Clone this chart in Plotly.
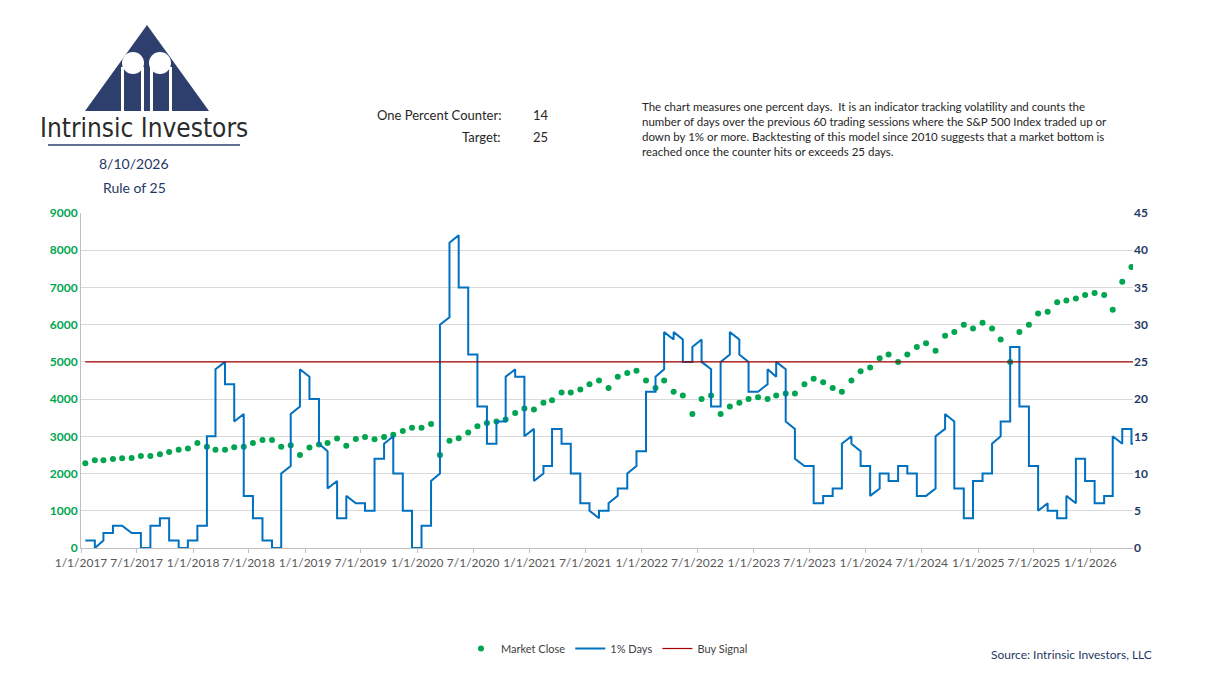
import plotly.graph_objects as go
import pandas as pd

# monthly samples (mid-month), Jan 2017 .. May 2026
months = pd.date_range("2017-01-01", "2026-05-01", freq="MS") + pd.Timedelta(days=14)

market_close = [
    2280, 2360, 2360, 2390, 2410, 2420, 2470, 2470, 2520, 2580, 2640, 2670,
    2820, 2720, 2640, 2640, 2710, 2720, 2820, 2900, 2900, 2720, 2760, 2500,
    2700, 2780, 2820, 2940, 2750, 2930, 2980, 2920, 2980, 3040, 3140, 3230,
    3230, 3330, 2500, 2880, 2950, 3100, 3270, 3360, 3400, 3450, 3630, 3750,
    3720, 3900, 3970, 4180, 4180, 4260, 4400, 4500, 4300, 4600, 4700, 4760,
    4500, 4300, 4500, 4200, 4100, 3600, 4000, 4100, 3600, 3800, 3900, 4000,
    4050, 4000, 4100, 4150, 4150, 4400, 4550, 4450, 4300, 4200, 4500, 4750,
    4850, 5100, 5200, 5000, 5200, 5400, 5500, 5300, 5700, 5800, 6000, 5900,
    6050, 5900, 5600, 5000, 5800, 6000, 6300, 6350, 6600, 6650, 6700, 6800,
    6850, 6800, 6400, 7150, 7550,
]

# 1% days counter: value at start and end of each monthly segment
days_start = [
    1, 0, 2, 3, 3, 2, 0, 3, 4, 1, 0, 1,
    3, 15, 24, 22, 17, 7, 4, 1, 0, 10, 18, 24,
    20, 14, 8, 4, 7, 6, 5, 12, 14, 10, 5, 0,
    3, 9, 30, 41, 35, 26, 19, 14, 17, 23, 23, 15,
    9, 11, 16, 14, 10, 6, 5, 5, 6, 8, 10, 13,
    21, 23, 29, 29, 25, 27, 25, 19, 25, 29, 26, 21,
    21, 24, 25, 17, 12, 11, 6, 7, 8, 14, 14, 11,
    7, 10, 9, 11, 10, 7, 7, 15, 18, 8, 4, 9,
    10, 14, 17, 27, 19, 11, 5, 5, 4, 7, 12, 9,
    6, 7, 15, 16, 14,
]
days_end = [
    1, 1, 2, 3, 2, 2, 0, 3, 4, 1, 0, 1,
    3, 15, 25, 22, 18, 7, 4, 1, 0, 11, 19, 23,
    20, 13, 9, 4, 6, 6, 5, 12, 15, 10, 5, 0,
    3, 10, 31, 42, 35, 26, 19, 14, 17, 24, 23, 16,
    10, 11, 16, 14, 10, 6, 4, 5, 7, 8, 11, 13,
    21, 24, 28, 28, 25, 28, 24, 19, 26, 28, 25, 21,
    22, 23, 24, 16, 11, 11, 6, 7, 8, 15, 13, 11,
    8, 10, 9, 11, 10, 7, 8, 16, 17, 8, 4, 9,
    10, 15, 17, 27, 19, 11, 6, 5, 4, 6, 12, 9,
    6, 7, 14, 16, 14,
]

buy_signal_x = ["2017-01-15", "2026-05-20"]
buy_signal_y = [25, 25]

tick_dates = pd.date_range("2017-01-01", "2026-01-01", freq="6MS")
tick_text = [f"{d.month}/{d.day}/{d.year}" for d in tick_dates]

# build step line
seg_end = list(months[1:]) + [pd.Timestamp("2026-05-20")]
bx, by = [], []
for i in range(len(months)):
    bx += [months[i], seg_end[i]]
    by += [days_start[i], days_end[i]]

FONT = "Lato, 'Open Sans', sans-serif"
NAVY = "#2E3F6E"
TXT = "#1F3864"
ML, MR, MT, MB = 73, 105, 205, 135

fig = go.Figure()
fig.add_trace(go.Scatter(x=months, y=market_close, mode="markers", name="Market Close",
                         marker=dict(color="#00A550", size=6)))
fig.add_trace(go.Scatter(x=bx, y=by, mode="lines", name="1% Days", yaxis="y2",
                         line=dict(color="#0070C0", width=2)))
fig.add_trace(go.Scatter(x=buy_signal_x, y=buy_signal_y, mode="lines", name="Buy Signal",
                         yaxis="y2", line=dict(color="#A50000", width=1.2)))

fig.update_layout(
    width=1230, height=675, paper_bgcolor="white", plot_bgcolor="white",
    margin=dict(l=ML, r=MR, t=MT, b=MB),
    font=dict(family=FONT, size=12, color="#404040"),
    showlegend=True,
    legend=dict(orientation="h", x=0.5, xanchor="center", y=-0.3, yanchor="middle",
                font=dict(size=11, color="#404040")),
    xaxis=dict(range=["2017-01-01", "2026-05-20"], tickvals=tick_dates, ticktext=tick_text,
               showgrid=False, showline=True, linecolor="#BFBFBF", ticks="outside",
               ticklen=4, tickcolor="#BFBFBF", tickfont=dict(size=12, color="#595959")),
    yaxis=dict(range=[0, 9000], dtick=1000, showgrid=True, gridcolor="#D9D9D9",
               showline=True, linecolor="#BFBFBF", zeroline=False,
               tickfont=dict(size=12, color="#00A550"), tickprefix="<b>", ticksuffix="</b>"),
    yaxis2=dict(range=[0, 45], dtick=5, overlaying="y", side="right", showgrid=False,
                zeroline=False, tickfont=dict(size=12, color=TXT), tickprefix="<b>", ticksuffix="</b>"),
)

# pixel -> paper (actual plot area: x 73..1125, y 212..547)
def px(x):
    return (x - 73) / 1052


def py(y):
    return (547 - y) / 335


# logo
lay = []
tri = f"M {px(77)},{py(110)} L {px(139)},{py(24)} L {px(201)},{py(110)} Z"
lay.append(dict(type="path", xref="paper", yref="paper", path=tri,
                fillcolor=NAVY, line=dict(width=0)))
for cx in (125, 152):
    lay.append(dict(type="circle", xref="paper", yref="paper",
                    x0=px(cx - 11), x1=px(cx + 11), y0=py(73), y1=py(51),
                    fillcolor="white", line=dict(width=0)))
for x0, x1 in ((113, 116), (133, 136), (142, 145), (161, 164)):
    lay.append(dict(type="rect", xref="paper", yref="paper",
                    x0=px(x0), x1=px(x1), y0=py(110), y1=py(66),
                    fillcolor="white", line=dict(width=0)))
lay.append(dict(type="line", xref="paper", yref="paper",
                x0=px(40), x1=px(232), y0=py(144), y1=py(144),
                line=dict(color=NAVY, width=1.5)))
fig.update_layout(shapes=lay)


def note(x, y, text, size=14, color=TXT, anchor="center", family=FONT):
    fig.add_annotation(xref="paper", yref="paper", x=px(x), y=py(y), text=text,
                       showarrow=False, xanchor=anchor, yanchor="middle",
                       font=dict(size=size, color=color, family=family), align="left")


note(136, 127, "Intrinsic Investors", size=26, color="#2B2B2B",
     family="'Liberation Sans Narrow', 'DejaVu Sans Condensed', sans-serif")
note(126, 163, "8/10/2026", 14)
note(126, 186, "Rule of 25", 14)
note(495, 114, "One Percent Counter:", 13, "#262626", "right")
note(523, 114, "14", 13, "#262626", "left")
note(495, 136, "Target:", 13, "#262626", "right")
note(523, 136, "25", 13, "#262626", "left")
note(632, 128, "The chart measures one percent days.  It is an indicator tracking volatility and counts the<br>"
     "number of days over the previous 60 trading sessions where the S&P 500 Index traded up or<br>"
     "down by 1% or more. Backtesting of this model since 2010 suggests that a market bottom is<br>"
     "reached once the counter hits or exceeds 25 days.", 11.5, "#262626", "left")
note(1146, 653, "Source: Intrinsic Investors, LLC", 12, TXT, "right")

fig.write_html("out.html")
